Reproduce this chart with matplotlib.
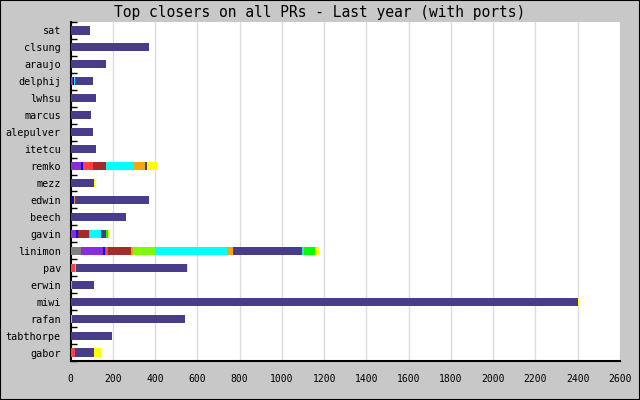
import numpy as np
from matplotlib import pyplot as plt
from matplotlib.patches import Rectangle

users = ["sat", "clsung", "araujo", "delphij", "lwhsu", "marcus", "alepulver",
         "itetcu", "remko", "mezz", "edwin", "beech", "gavin", "linimon", "pav",
         "erwin", "miwi", "rafan", "tabthorpe", "gabor"]

# closed PRs per category, one list per colour segment (same order as users)
gray_seg =     [0, 0, 0, 0, 0, 0, 0, 0, 0, 0, 0, 0, 0, 47, 0, 0, 0, 0, 0, 0]
violet_seg =   [0, 0, 0, 11, 0, 0, 0, 0, 49, 0, 0, 0, 24, 104, 0, 0, 0, 0, 0, 0]
blue_seg =     [0, 0, 0, 4, 0, 0, 0, 0, 9, 0, 14, 0, 11, 13, 0, 0, 0, 0, 0, 0]
red_seg =      [0, 0, 0, 0, 0, 0, 0, 0, 49, 0, 0, 0, 0, 13, 22, 0, 0, 0, 0, 22]
brown_seg =    [0, 0, 0, 0, 0, 0, 0, 0, 60, 0, 0, 0, 52, 110, 0, 0, 0, 0, 0, 0]
amber_seg =    [0, 0, 0, 0, 0, 0, 0, 0, 0, 0, 5, 0, 5, 6, 0, 8, 0, 0, 0, 0]
lawn_seg =     [0, 0, 0, 0, 0, 0, 0, 0, 0, 0, 0, 0, 0, 107, 0, 0, 0, 0, 0, 0]
cyan_seg =     [0, 0, 0, 4, 0, 0, 0, 0, 132, 0, 0, 0, 52, 340, 5, 0, 0, 8, 0, 0]
orange_seg =   [0, 0, 0, 0, 0, 0, 0, 0, 52, 0, 0, 0, 0, 30, 0, 0, 0, 0, 0, 0]
slate_seg =    [91, 370, 167, 85, 120, 96, 105, 120, 9, 110, 351, 262, 24, 323,
                522, 101, 2400, 532, 195, 87]
sky_seg =      [0, 0, 0, 0, 0, 0, 0, 0, 0, 0, 0, 0, 0, 13, 0, 0, 0, 0, 0, 0]
green_seg =    [0, 0, 0, 0, 0, 0, 0, 0, 0, 0, 0, 0, 8, 52, 0, 0, 0, 0, 0, 0]
yellow_seg =   [0, 0, 0, 0, 0, 0, 0, 0, 47, 5, 0, 0, 8, 16, 8, 0, 8, 0, 0, 33]

segments = [
    (gray_seg, "#808080"),
    (violet_seg, "#8a2be2"),
    (blue_seg, "#0000ff"),
    (red_seg, "#ff4040"),
    (brown_seg, "#a52a2a"),
    (amber_seg, "#e8a010"),
    (lawn_seg, "#7cfc00"),
    (cyan_seg, "#00ffff"),
    (orange_seg, "#f0a810"),
    (slate_seg, "#483d8b"),
    (sky_seg, "#40e0d0"),
    (green_seg, "#00ff00"),
    (yellow_seg, "#ffff00"),
]

font = "DejaVu Sans Mono"

fig = plt.figure(figsize=(6.4, 4.0), dpi=100)
fig.patch.set_facecolor("#c8c8c8")
fig.patches.append(Rectangle((0, 0), 1, 1, transform=fig.transFigure,
                             fill=False, edgecolor="black", linewidth=1.5))
ax = fig.add_axes([70.6 / 640, 1 - 361 / 400, (620 - 70.6) / 640, (361 - 22) / 400])
ax.set_facecolor("white")

y = np.arange(len(users))
left = np.zeros(len(users))
for vals, col in segments:
    vals = np.array(vals, dtype=float)
    ax.barh(y, vals, left=left, height=0.48, color=col, linewidth=0, zorder=3)
    left += vals

ax.set_xlim(0, 2600)
ax.set_ylim(len(users) - 0.5, -0.5)
ax.set_xticks(np.arange(0, 2601, 200))
ax.set_yticks(y)
ax.set_yticklabels(users)
ax.set_yticks(np.arange(-0.5, len(users), 1.0), minor=True)
ax.tick_params(axis="y", which="major", length=0, pad=7, labelsize=7.3)
ax.tick_params(axis="y", which="minor", direction="in", length=4, width=1,
               color="black")
ax.tick_params(axis="x", which="major", length=0, pad=9, labelsize=7)
for lab in ax.get_xticklabels() + ax.get_yticklabels():
    lab.set_family(font)

ax.grid(axis="x", color="#dcdcdc", linewidth=1, zorder=0)
ax.set_axisbelow(True)
for side in ["top", "right"]:
    ax.spines[side].set_visible(False)
for side in ["left", "bottom"]:
    ax.spines[side].set_color("black")
    ax.spines[side].set_linewidth(1.5)

fig.text(0.5, 1 - 12 / 400, "Top closers on all PRs - Last year (with ports)",
         ha="center", va="center", family=font, fontsize=10.5)

fig.savefig("out.png", dpi=100, facecolor=fig.get_facecolor())
